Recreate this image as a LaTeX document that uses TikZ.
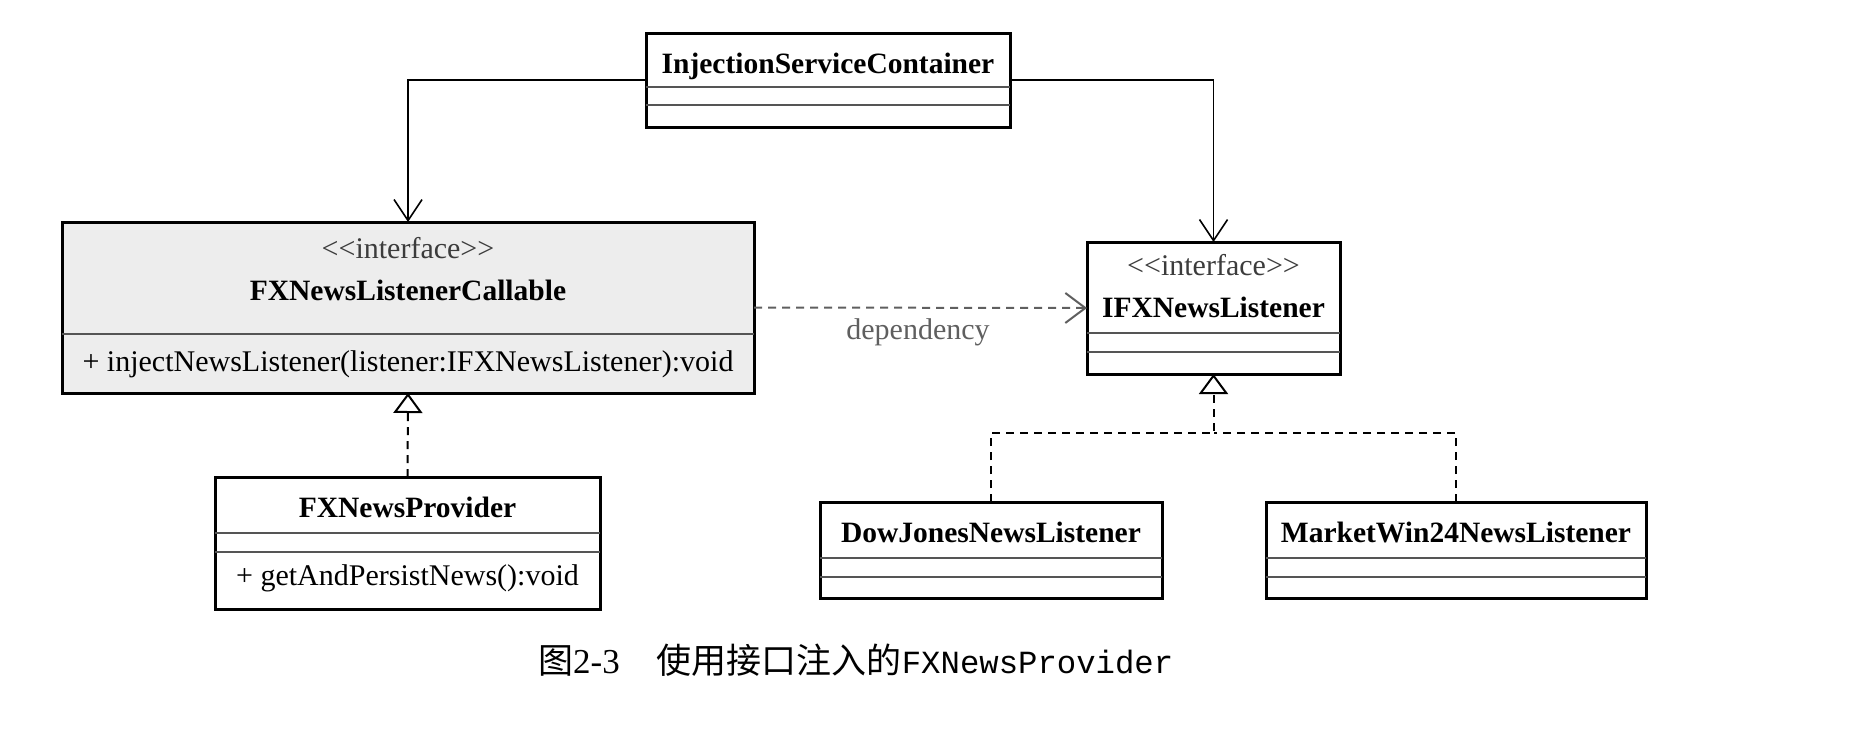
\documentclass[tikz,border=0pt]{standalone}
\usepackage{fontspec}
\setmainfont{Liberation Serif}
\setmonofont{Liberation Mono}
\newfontfamily\cjkfont{Noto Sans CJK SC}
\usetikzlibrary{arrows.meta}
\definecolor{boxgray}{RGB}{237,237,237}
\definecolor{sepgray}{RGB}{85,85,85}
\definecolor{stereogray}{RGB}{60,60,60}
\definecolor{depgray}{RGB}{95,95,95}
\newcommand\umlreg{\fontsize{30}{36}\selectfont}
\newcommand\umlbold{\fontsize{29.5}{36}\selectfont\bfseries}
\newcommand\stereoiface{<\kern0pt<interface>\kern0pt>}
\tikzset{
  classbox/.style={draw=black, line width=3pt, rectangle, inner sep=0pt, outer sep=0pt, fill=white},
  sepline/.style={line width=2pt, draw=sepgray},
  cname/.style={anchor=base, inner sep=0pt, font=\umlbold},
  cstereo/.style={anchor=base, inner sep=0pt, font=\umlreg, text=stereogray},
  cmethod/.style={anchor=base, inner sep=0pt, font=\umlreg},
  assoc/.style={line width=1.6pt, draw=black, -{Straight Barb[length=21pt,width=28pt]}},
  depend/.style={line width=2pt, draw=depgray, dash pattern=on 8pt off 6pt, -{Straight Barb[length=20pt,width=30pt]}},
  realize/.style={line width=2pt, draw=black, dash pattern=on 8pt off 6pt, -{Triangle[open,length=20pt,width=29pt]}},
  realizeline/.style={line width=2pt, draw=black, dash pattern=on 8pt off 6pt},
  deplabel/.style={anchor=base, inner sep=0pt, font=\umlreg, text=depgray}
}
\begin{document}
\begin{tikzpicture}[x=1pt,y=-1pt]
\useasboundingbox (0,0) rectangle (1870,736);

% InjectionServiceContainer
\node[classbox, minimum width=364pt, minimum height=94pt] (ISC) at (828,80) {};
\draw[sepline] ([yshift=-54pt]ISC.north west) -- ([yshift=-54pt]ISC.north east);
\draw[sepline] ([yshift=-72pt]ISC.north west) -- ([yshift=-72pt]ISC.north east);
\node[cname] (iscname) at ([yshift=-40pt]ISC.north) {InjectionServiceContainer};

% FXNewsListenerCallable
\node[classbox, fill=boxgray, minimum width=692pt, minimum height=171pt] (FXNLC) at (408,307.5) {};
\draw[sepline] ([yshift=-112pt]FXNLC.north west) -- ([yshift=-112pt]FXNLC.north east);
\node[cstereo] (fxnlcst) at ([yshift=-36pt]FXNLC.north) {\stereoiface};
\node[cname] (fxnlcname) at ([yshift=-78pt]FXNLC.north) {FXNewsListenerCallable};
\node[cmethod] (fxnlcm) at ([yshift=-149pt]FXNLC.north) {+ injectNewsListener(listener:IFXNewsListener):void};

% IFXNewsListener
\node[classbox, minimum width=253pt, minimum height=132pt] (IFX) at (1213.5,308) {};
\draw[sepline] ([yshift=-91pt]IFX.north west) -- ([yshift=-91pt]IFX.north east);
\draw[sepline] ([yshift=-110pt]IFX.north west) -- ([yshift=-110pt]IFX.north east);
\node[cstereo] (ifxst) at ([yshift=-33pt]IFX.north) {\stereoiface};
\node[cname] (ifxname) at ([yshift=-75pt]IFX.north) {IFXNewsListener};

% FXNewsProvider
\node[classbox, minimum width=385pt, minimum height=132pt] (FXNP) at (407.5,543) {};
\draw[sepline] ([yshift=-56pt]FXNP.north west) -- ([yshift=-56pt]FXNP.north east);
\draw[sepline] ([yshift=-75pt]FXNP.north west) -- ([yshift=-75pt]FXNP.north east);
\node[cname] (fxnpname) at ([yshift=-40pt]FXNP.north) {FXNewsProvider};
\node[cmethod] (fxnpm) at ([yshift=-108pt]FXNP.north) {+ getAndPersistNews():void};

% DowJonesNewsListener
\node[classbox, minimum width=342pt, minimum height=96pt] (DJ) at (991,550) {};
\draw[sepline] ([yshift=-56pt]DJ.north west) -- ([yshift=-56pt]DJ.north east);
\draw[sepline] ([yshift=-75pt]DJ.north west) -- ([yshift=-75pt]DJ.north east);
\node[cname] (djname) at ([yshift=-40pt]DJ.north) {DowJonesNewsListener};

% MarketWin24NewsListener
\node[classbox, minimum width=380pt, minimum height=96pt] (MW) at (1456,550) {};
\draw[sepline] ([yshift=-56pt]MW.north west) -- ([yshift=-56pt]MW.north east);
\draw[sepline] ([yshift=-75pt]MW.north west) -- ([yshift=-75pt]MW.north east);
\node[cname] (mwname) at ([yshift=-40pt]MW.north) {MarketWin24NewsListener};

% connectors
\draw[assoc] (ISC.west) -| (FXNLC.north);
\draw[assoc] (ISC.east) -| (IFX.north);
\draw[depend] (FXNLC.east) -- (IFX.west);
\node[deplabel] (deplbl) at (918,339) {dependency};
\draw[realize] (FXNP.north) -- (FXNLC.south);
\coordinate (junc) at ([yshift=-59pt]IFX.south);
\draw[realize] (DJ.north) |- (junc) -- (IFX.south);
\draw[realizeline] (MW.north) |- (junc);

% caption
\node[anchor=base west, inner sep=0pt, font=\fontsize{35}{42}\selectfont] (cap) at (538,673)
  {{\cjkfont 图}{\fontsize{35}{42}\selectfont 2-3}\hspace{37pt}{\cjkfont 使用接口注入的}{\ttfamily\fontsize{32.3}{40}\selectfont FXNewsProvider}};
\end{tikzpicture}
\end{document}
